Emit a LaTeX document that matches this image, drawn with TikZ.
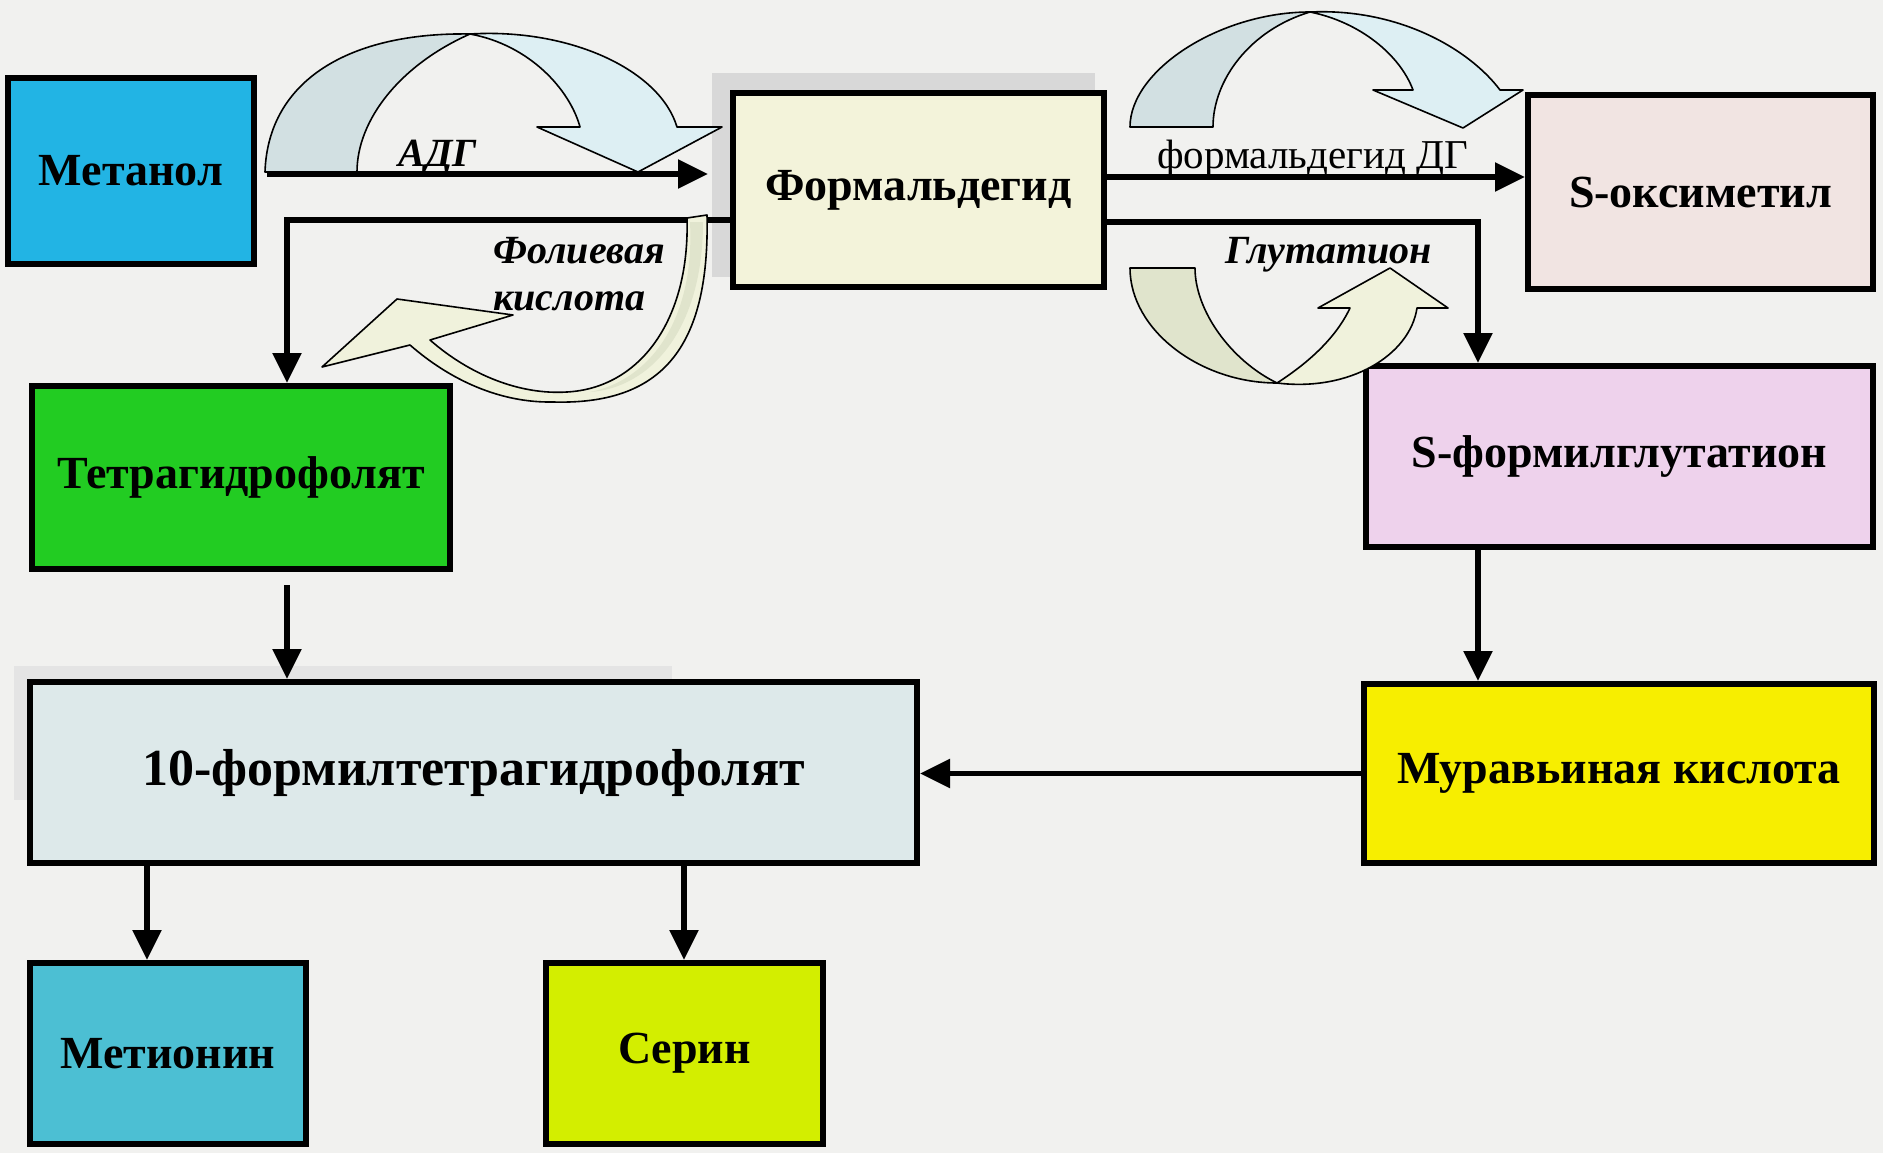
\documentclass[tikz,border=0pt]{standalone}
\usepackage{fontspec}
\setmainfont{Liberation Serif}
\usetikzlibrary{arrows.meta}
\definecolor{bg}{HTML}{F1F1EF}
\definecolor{cmet}{HTML}{22B4E4}
\definecolor{cform}{HTML}{F3F3DA}
\definecolor{csoks}{HTML}{F1E4E2}
\definecolor{ctetra}{HTML}{22CC22}
\definecolor{csform}{HTML}{EED2EC}
\definecolor{cften}{HTML}{DDE9EA}
\definecolor{cmur}{HTML}{F7EE00}
\definecolor{cmeth}{HTML}{4CBFD3}
\definecolor{cser}{HTML}{D3EE00}
\definecolor{bluebk}{HTML}{D2E0E2}
\definecolor{bluefr}{HTML}{DDEFF3}
\definecolor{creambk}{HTML}{E0E4CC}
\definecolor{creamfr}{HTML}{F0F2DC}
\definecolor{shadowgray}{HTML}{D8D8D8}
\begin{document}
\begin{tikzpicture}[x=1pt,y=-1pt,
  box/.style={draw=black, line width=6pt, inner sep=0pt, align=center,
    font=\fontsize{46}{50}\selectfont\bfseries},
  conn/.style={line width=5.5pt, -{Triangle[length=30pt,width=28pt]}},
  band/.style={draw=black, line width=1.6pt, line join=round},
  lab/.style={anchor=base west, inner sep=0pt, font=\fontsize{40}{44}\selectfont\bfseries\itshape}
]
\useasboundingbox (0,0) rectangle (1883,1153);
\fill[bg] (0,0) rectangle (1883,1153);

% faint scan shadows
\fill[shadowgray] (712,73) rectangle (1095,277);
\fill[shadowgray!70] (14,666) rectangle (672,800);

% boxes
\node[box, fill=cmet,   minimum width=246pt, minimum height=186pt] (met)   at (131,171)    {Метанол};
\node[box, fill=cform,  minimum width=371pt, minimum height=194pt] (form)  at (918.5,190)  {Формальдегид};
\node[box, fill=csoks,  minimum width=345pt, minimum height=194pt] (soks)  at (1700.5,192) {S-оксиметил};
\node[box, fill=ctetra, minimum width=418pt, minimum height=183pt] (tetra) at (241,477.5)  {Тетрагидрофолят};
\node[box, fill=csform, minimum width=507pt, minimum height=181pt] (sform) at (1619.5,456.5) {S-формилглутатион};
\node[box, fill=cften,  minimum width=887pt, minimum height=181pt,
      font=\fontsize{52}{56}\selectfont\bfseries] (ften)  at (473.5,772.5) {10-формилтетрагидрофолят};
\node[box, fill=cmur,   minimum width=510pt, minimum height=179pt] (mur)   at (1619,773.5) {Муравьиная кислота};
\node[box, fill=cmeth,  minimum width=276pt, minimum height=181pt] (meth)  at (168,1053.5) {Метионин};
\node[box, fill=cser,   minimum width=277pt, minimum height=181pt] (ser)   at (684.5,1053.5) {Серин};

% connectors
\draw[conn, shorten <=10pt, shorten >=22pt] ([yshift=-3pt]met.east) -- ([yshift=-3pt]met.east -| form.west);
\draw[conn] ([yshift=13pt]form.east) -- ([yshift=13pt]form.east -| soks.west);
\draw[conn] ([yshift=-32pt]form.east) -| ([xshift=-141.5pt]sform.north);
\draw[conn] ([yshift=-30pt]form.west) -| ([xshift=46pt]tetra.north);
\draw[conn, shorten <=13pt] ([xshift=46pt]tetra.south) -- ([xshift=46pt]tetra.south |- ften.north);
\draw[conn] ([xshift=-141.5pt]sform.south) -- ([xshift=-141.5pt]sform.south |- mur.north);
\draw[conn] (mur.west) -- (mur.west -| ften.east);
\draw[conn] ([xshift=-326.5pt]ften.south) -- ([xshift=-326.5pt]ften.south |- meth.north);
\draw[conn] ([xshift=210.5pt]ften.south) -- ([xshift=210.5pt]ften.south |- ser.north);

% curved arrow above АДГ
\filldraw[band, fill=bluebk] (265,172) .. controls (268,80) and (350,32) .. (470,34)
  .. controls (400,65) and (357,120) .. (357,172) -- cycle;
\filldraw[band, fill=bluefr] (470,34) .. controls (570,28) and (660,70) .. (677,127)
  -- (722,127) -- (638,172) -- (537,127) -- (580,127)
  .. controls (570,90) and (530,45) .. (470,34) -- cycle;

% curved arrow above формальдегид ДГ
\filldraw[band, fill=bluebk] (1130,127) .. controls (1130,70) and (1220,12) .. (1310,12)
  .. controls (1250,30) and (1213,80) .. (1213,127) -- cycle;
\filldraw[band, fill=bluefr] (1310,12) .. controls (1400,8) and (1470,50) .. (1500,90)
  -- (1523,90) -- (1463,128) -- (1373,90) -- (1413,90)
  .. controls (1400,55) and (1360,22) .. (1310,12) -- cycle;

% curved arrow Глутатион
\filldraw[band, fill=creambk] (1130,268) .. controls (1130,330) and (1200,383) .. (1277,383)
  .. controls (1230,360) and (1195,310) .. (1195,268) -- cycle;
\filldraw[band, fill=creamfr] (1277,383) .. controls (1350,392) and (1410,355) .. (1417,308)
  -- (1448,308) -- (1390,268) -- (1318,308) -- (1350,308)
  .. controls (1335,340) and (1305,365) .. (1277,383) -- cycle;

% curved arrow Фолиевая кислота
\filldraw[band, fill=creamfr] (322,367) -- (397,299) -- (513,315) -- (430,340)
  .. controls (470,375) and (520,395) .. (567,392)
  .. controls (640,388) and (690,320) .. (687,218)
  -- (707,215)
  .. controls (710,350) and (660,405) .. (553,402)
  .. controls (500,403) and (450,380) .. (410,345)
  -- cycle;
\fill[creambk] (690,222) .. controls (695,320) and (650,380) .. (590,392)
  .. controls (650,388) and (703,330) .. (703,222) -- cycle;

% labels
\node[lab] (adg) at (398,167) {АДГ};
\node[lab, font=\fontsize{41}{45}\selectfont] (fdg) at (1157,168) {формальдегид ДГ};
\node[lab] (glu) at (1225,263) {Глутатион};
\node[lab] (fol1) at (493,263) {Фолиевая};
\node[lab] (fol2) at (493,310) {кислота};
\end{tikzpicture}
\end{document}
